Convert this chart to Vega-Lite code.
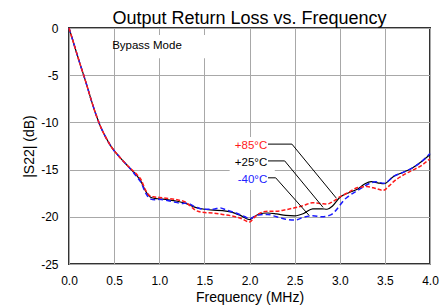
{
  "$schema": "https://vega.github.io/schema/vega-lite/v6.json",
  "width": 361,
  "height": 236,
  "autosize": "none",
  "padding": {"left": 69, "top": 28, "right": 12, "bottom": 43},
  "background": "white",
  "title": {"text": "Output Return Loss vs. Frequency", "fontSize": 18, "fontWeight": "normal", "font": "Liberation Sans", "color": "black", "offset": -6, "frame": "group"},
  "config": {
    "view": {"stroke": "#333333", "strokeWidth": 2},
    "axis": {"domain": false, "ticks": false, "tickSize": 0, "grid": true, "gridColor": "#a8a8a8", "gridWidth": 1, "labelFont": "Liberation Sans", "labelFontSize": 12, "labelColor": "black", "titleFont": "Liberation Sans", "titleFontSize": 14, "titleFontWeight": "normal", "titleColor": "black"}
  },
  "datasets": {
    "curves": [
      {"s": "+25°C", "f": 0, "db": 0}, {"s": "+25°C", "f": 0.04, "db": -1.25}, {"s": "+25°C", "f": 0.08, "db": -2.5}, {"s": "+25°C", "f": 0.12, "db": -3.75}, {"s": "+25°C", "f": 0.166, "db": -5.1}, {"s": "+25°C", "f": 0.2, "db": -6.15}, {"s": "+25°C", "f": 0.25, "db": -7.75}, {"s": "+25°C", "f": 0.3, "db": -9.2}, {"s": "+25°C", "f": 0.35, "db": -10.45}, {"s": "+25°C", "f": 0.4, "db": -11.45}, {"s": "+25°C", "f": 0.45, "db": -12.3}, {"s": "+25°C", "f": 0.5, "db": -13.0}, {"s": "+25°C", "f": 0.55, "db": -13.55}, {"s": "+25°C", "f": 0.6, "db": -14.1}, {"s": "+25°C", "f": 0.65, "db": -14.6}, {"s": "+25°C", "f": 0.7, "db": -15.1}, {"s": "+25°C", "f": 0.75, "db": -15.6}, {"s": "+25°C", "f": 0.8, "db": -16.3}, {"s": "+25°C", "f": 0.85, "db": -17.3}, {"s": "+25°C", "f": 0.9, "db": -17.9}, {"s": "+25°C", "f": 0.95, "db": -18.05}, {"s": "+25°C", "f": 1.0, "db": -18.1}, {"s": "+25°C", "f": 1.1, "db": -18.2}, {"s": "+25°C", "f": 1.2, "db": -18.35}, {"s": "+25°C", "f": 1.3, "db": -18.6}, {"s": "+25°C", "f": 1.4, "db": -19.0}, {"s": "+25°C", "f": 1.5, "db": -19.2}, {"s": "+25°C", "f": 1.6, "db": -19.3}, {"s": "+25°C", "f": 1.7, "db": -19.35}, {"s": "+25°C", "f": 1.8, "db": -19.5}, {"s": "+25°C", "f": 1.9, "db": -19.85}, {"s": "+25°C", "f": 2.0, "db": -20.3}, {"s": "+25°C", "f": 2.05, "db": -20.0}, {"s": "+25°C", "f": 2.1, "db": -19.75}, {"s": "+25°C", "f": 2.2, "db": -19.6}, {"s": "+25°C", "f": 2.3, "db": -19.7}, {"s": "+25°C", "f": 2.4, "db": -19.85}, {"s": "+25°C", "f": 2.5, "db": -19.9}, {"s": "+25°C", "f": 2.6, "db": -19.65}, {"s": "+25°C", "f": 2.7, "db": -19.15}, {"s": "+25°C", "f": 2.8, "db": -19.15}, {"s": "+25°C", "f": 2.86, "db": -19.2}, {"s": "+25°C", "f": 2.92, "db": -18.85}, {"s": "+25°C", "f": 3.0, "db": -17.95}, {"s": "+25°C", "f": 3.1, "db": -17.45}, {"s": "+25°C", "f": 3.2, "db": -17.05}, {"s": "+25°C", "f": 3.28, "db": -16.5}, {"s": "+25°C", "f": 3.35, "db": -16.28}, {"s": "+25°C", "f": 3.42, "db": -16.4}, {"s": "+25°C", "f": 3.49, "db": -16.5}, {"s": "+25°C", "f": 3.6, "db": -15.7}, {"s": "+25°C", "f": 3.7, "db": -15.3}, {"s": "+25°C", "f": 3.8, "db": -14.85}, {"s": "+25°C", "f": 3.9, "db": -14.2}, {"s": "+25°C", "f": 4.0, "db": -13.4},

      {"s": "-40°C", "f": 0, "db": 0}, {"s": "-40°C", "f": 0.04, "db": -1.25}, {"s": "-40°C", "f": 0.08, "db": -2.5}, {"s": "-40°C", "f": 0.12, "db": -3.75}, {"s": "-40°C", "f": 0.166, "db": -5.1}, {"s": "-40°C", "f": 0.2, "db": -6.15}, {"s": "-40°C", "f": 0.25, "db": -7.75}, {"s": "-40°C", "f": 0.3, "db": -9.2}, {"s": "-40°C", "f": 0.35, "db": -10.45}, {"s": "-40°C", "f": 0.4, "db": -11.45}, {"s": "-40°C", "f": 0.45, "db": -12.3}, {"s": "-40°C", "f": 0.5, "db": -13.0}, {"s": "-40°C", "f": 0.55, "db": -13.55}, {"s": "-40°C", "f": 0.6, "db": -14.1}, {"s": "-40°C", "f": 0.65, "db": -14.6}, {"s": "-40°C", "f": 0.7, "db": -15.15}, {"s": "-40°C", "f": 0.75, "db": -15.75}, {"s": "-40°C", "f": 0.8, "db": -16.4}, {"s": "-40°C", "f": 0.85, "db": -17.5}, {"s": "-40°C", "f": 0.9, "db": -18.1}, {"s": "-40°C", "f": 0.95, "db": -18.2}, {"s": "-40°C", "f": 1.0, "db": -18.15}, {"s": "-40°C", "f": 1.1, "db": -18.3}, {"s": "-40°C", "f": 1.2, "db": -18.5}, {"s": "-40°C", "f": 1.25, "db": -18.6}, {"s": "-40°C", "f": 1.3, "db": -18.55}, {"s": "-40°C", "f": 1.4, "db": -18.95}, {"s": "-40°C", "f": 1.5, "db": -19.2}, {"s": "-40°C", "f": 1.6, "db": -19.2}, {"s": "-40°C", "f": 1.67, "db": -19.05}, {"s": "-40°C", "f": 1.75, "db": -19.3}, {"s": "-40°C", "f": 1.85, "db": -19.6}, {"s": "-40°C", "f": 1.95, "db": -20.0}, {"s": "-40°C", "f": 2.0, "db": -20.2}, {"s": "-40°C", "f": 2.05, "db": -20.0}, {"s": "-40°C", "f": 2.1, "db": -19.8}, {"s": "-40°C", "f": 2.2, "db": -19.75}, {"s": "-40°C", "f": 2.3, "db": -20.0}, {"s": "-40°C", "f": 2.4, "db": -20.25}, {"s": "-40°C", "f": 2.5, "db": -20.35}, {"s": "-40°C", "f": 2.6, "db": -20.05}, {"s": "-40°C", "f": 2.7, "db": -19.9}, {"s": "-40°C", "f": 2.8, "db": -20.0}, {"s": "-40°C", "f": 2.9, "db": -19.8}, {"s": "-40°C", "f": 2.95, "db": -19.4}, {"s": "-40°C", "f": 3.0, "db": -18.8}, {"s": "-40°C", "f": 3.05, "db": -18.2}, {"s": "-40°C", "f": 3.1, "db": -17.8}, {"s": "-40°C", "f": 3.2, "db": -17.2}, {"s": "-40°C", "f": 3.3, "db": -16.6}, {"s": "-40°C", "f": 3.4, "db": -16.3}, {"s": "-40°C", "f": 3.49, "db": -16.45}, {"s": "-40°C", "f": 3.6, "db": -15.7}, {"s": "-40°C", "f": 3.7, "db": -15.3}, {"s": "-40°C", "f": 3.8, "db": -14.85}, {"s": "-40°C", "f": 3.9, "db": -14.2}, {"s": "-40°C", "f": 4.0, "db": -13.3},

      {"s": "+85°C", "f": 0, "db": 0}, {"s": "+85°C", "f": 0.04, "db": -1.25}, {"s": "+85°C", "f": 0.08, "db": -2.5}, {"s": "+85°C", "f": 0.12, "db": -3.75}, {"s": "+85°C", "f": 0.166, "db": -5.1}, {"s": "+85°C", "f": 0.2, "db": -6.15}, {"s": "+85°C", "f": 0.25, "db": -7.75}, {"s": "+85°C", "f": 0.3, "db": -9.2}, {"s": "+85°C", "f": 0.35, "db": -10.45}, {"s": "+85°C", "f": 0.4, "db": -11.45}, {"s": "+85°C", "f": 0.45, "db": -12.3}, {"s": "+85°C", "f": 0.5, "db": -13.0}, {"s": "+85°C", "f": 0.55, "db": -13.55}, {"s": "+85°C", "f": 0.6, "db": -14.1}, {"s": "+85°C", "f": 0.65, "db": -14.6}, {"s": "+85°C", "f": 0.7, "db": -15.05}, {"s": "+85°C", "f": 0.75, "db": -15.5}, {"s": "+85°C", "f": 0.8, "db": -16.1}, {"s": "+85°C", "f": 0.85, "db": -17.2}, {"s": "+85°C", "f": 0.9, "db": -17.8}, {"s": "+85°C", "f": 0.95, "db": -17.9}, {"s": "+85°C", "f": 1.0, "db": -17.95}, {"s": "+85°C", "f": 1.1, "db": -18.05}, {"s": "+85°C", "f": 1.2, "db": -18.2}, {"s": "+85°C", "f": 1.3, "db": -18.5}, {"s": "+85°C", "f": 1.35, "db": -18.9}, {"s": "+85°C", "f": 1.4, "db": -19.3}, {"s": "+85°C", "f": 1.5, "db": -19.55}, {"s": "+85°C", "f": 1.6, "db": -19.6}, {"s": "+85°C", "f": 1.7, "db": -19.75}, {"s": "+85°C", "f": 1.8, "db": -19.9}, {"s": "+85°C", "f": 1.9, "db": -20.15}, {"s": "+85°C", "f": 2.0, "db": -20.55}, {"s": "+85°C", "f": 2.05, "db": -20.1}, {"s": "+85°C", "f": 2.1, "db": -19.7}, {"s": "+85°C", "f": 2.2, "db": -19.4}, {"s": "+85°C", "f": 2.3, "db": -19.4}, {"s": "+85°C", "f": 2.4, "db": -19.25}, {"s": "+85°C", "f": 2.5, "db": -19.05}, {"s": "+85°C", "f": 2.6, "db": -18.8}, {"s": "+85°C", "f": 2.7, "db": -18.5}, {"s": "+85°C", "f": 2.8, "db": -18.6}, {"s": "+85°C", "f": 2.86, "db": -18.65}, {"s": "+85°C", "f": 2.92, "db": -18.4}, {"s": "+85°C", "f": 3.0, "db": -17.9}, {"s": "+85°C", "f": 3.1, "db": -17.4}, {"s": "+85°C", "f": 3.2, "db": -16.9}, {"s": "+85°C", "f": 3.3, "db": -16.8}, {"s": "+85°C", "f": 3.4, "db": -17.0}, {"s": "+85°C", "f": 3.48, "db": -17.2}, {"s": "+85°C", "f": 3.55, "db": -16.7}, {"s": "+85°C", "f": 3.6, "db": -16.25}, {"s": "+85°C", "f": 3.7, "db": -15.6}, {"s": "+85°C", "f": 3.8, "db": -15.1}, {"s": "+85°C", "f": 3.9, "db": -14.6}, {"s": "+85°C", "f": 4.0, "db": -13.85}
    ],
    "boxes": [
      {"f": 0.84, "f2": 1.67, "db": -0.75, "db2": -3.2},
      {"f": 1.78, "f2": 2.28, "db": -11.55, "db2": -17.15}
    ],
    "leaders": [
      {"lab": "+85°C", "k": 1, "f": 2.205, "db": -12.3}, {"lab": "+85°C", "k": 2, "f": 2.47, "db": -12.3}, {"lab": "+85°C", "k": 3, "f": 2.96, "db": -18.0},
      {"lab": "+25°C", "k": 1, "f": 2.205, "db": -14.08}, {"lab": "+25°C", "k": 2, "f": 2.39, "db": -14.08}, {"lab": "+25°C", "k": 3, "f": 2.815, "db": -19.0},
      {"lab": "-40°C", "k": 1, "f": 2.205, "db": -15.87}, {"lab": "-40°C", "k": 2, "f": 2.29, "db": -15.87}, {"lab": "-40°C", "k": 3, "f": 2.66, "db": -19.85}
    ],
    "labels": [
      {"t": "+85°C", "f": 2.197, "db": -12.5},
      {"t": "+25°C", "f": 2.197, "db": -14.25},
      {"t": "-40°C", "f": 2.197, "db": -16.05},
      {"t": "Bypass Mode", "f": 1.25, "db": -1.9}
    ]
  },
  "encoding": {
    "x": {"field": "f", "type": "quantitative", "scale": {"domain": [0, 4], "nice": false, "zero": false},
      "axis": {"values": [0, 0.5, 1, 1.5, 2, 2.5, 3, 3.5, 4], "title": "Frequency (MHz)", "labelPadding": 11, "titlePadding": 4, "labelFlush": false, "labelOverlap": false}},
    "y": {"field": "db", "type": "quantitative", "scale": {"domain": [-25, 0], "nice": false, "zero": false},
      "axis": {"values": [-25, -20, -15, -10, -5, 0], "title": "|S22| (dB)", "labelPadding": 11, "titlePadding": 4, "labelExpr": "datum.value", "labelFlush": false, "labelOverlap": false}}
  },
  "layer": [
    {"data": {"name": "boxes"}, "mark": {"type": "rect", "fill": "white", "stroke": null},
      "encoding": {"x2": {"field": "f2"}, "y2": {"field": "db2"}}},
    {"data": {"name": "curves"}, "transform": [{"filter": "datum.s === '+25°C'"}],
      "mark": {"type": "line", "color": "black", "strokeWidth": 1.2, "interpolate": "monotone"}, "encoding": {}},
    {"data": {"name": "curves"}, "transform": [{"filter": "datum.s === '-40°C'"}],
      "mark": {"type": "line", "color": "#1a1aff", "strokeWidth": 1.5, "strokeDash": [5, 3], "interpolate": "monotone"}, "encoding": {}},
    {"data": {"name": "curves"}, "transform": [{"filter": "datum.s === '+85°C'"}],
      "mark": {"type": "line", "color": "#ff1a1a", "strokeWidth": 1.5, "strokeDash": [4, 2], "interpolate": "monotone"}, "encoding": {}},
    {"data": {"name": "leaders"}, "mark": {"type": "line", "color": "black", "strokeWidth": 1},
      "encoding": {"detail": {"field": "lab"}, "order": {"field": "k", "type": "quantitative"}}},
    {"data": {"name": "labels"}, "mark": {"type": "text", "font": "Liberation Sans", "fontSize": 11.5, "align": "right", "baseline": "middle"},
      "encoding": {"text": {"field": "t"},
        "color": {"field": "t", "type": "nominal", "legend": null, "scale": {"domain": ["+85°C", "+25°C", "-40°C", "Bypass Mode"], "range": ["#ff1a1a", "black", "#2020ff", "black"]}},
        "align": {"condition": {"test": "datum.t === 'Bypass Mode'", "value": "center"}, "value": "right"}}}
  ]
}
